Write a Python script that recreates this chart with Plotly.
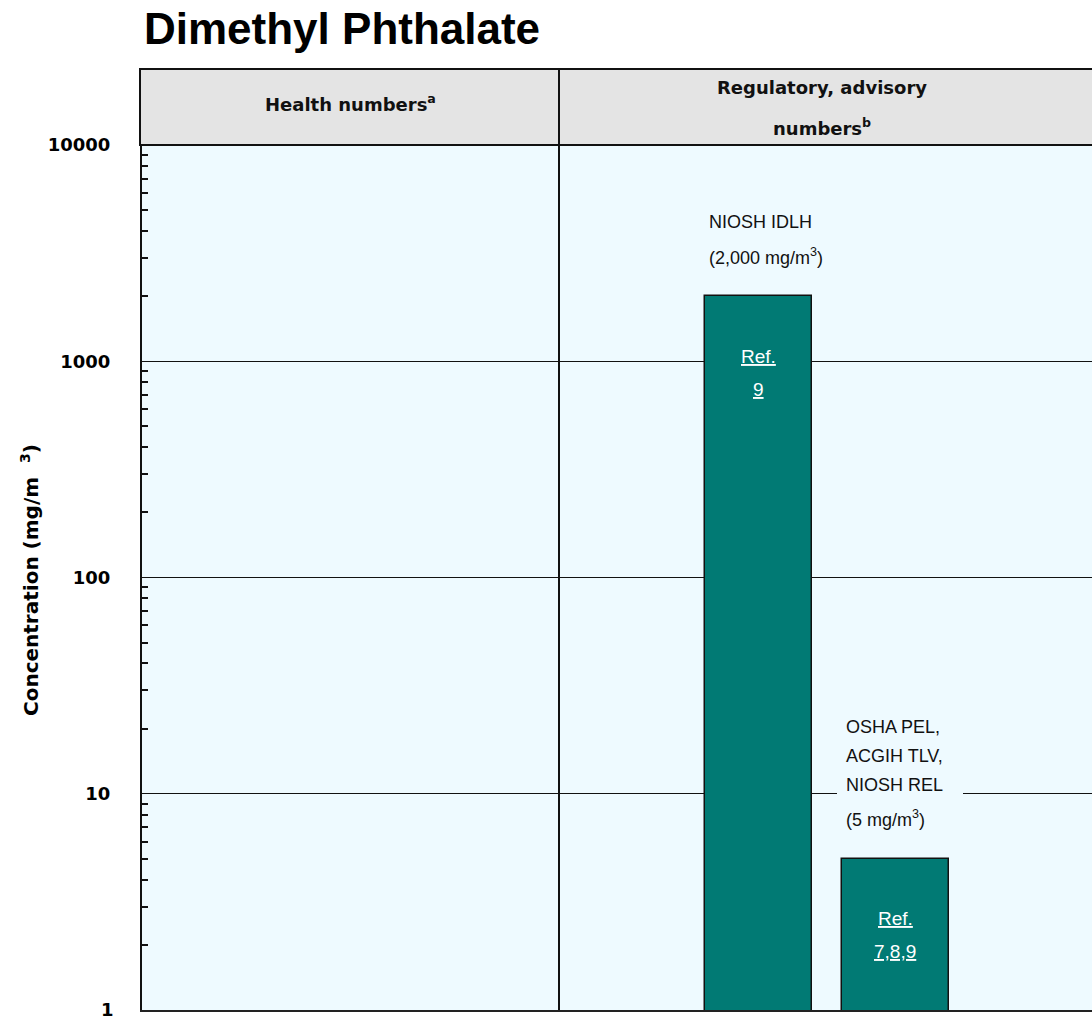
import math
import plotly.graph_objects as go

# ---------------- data ----------------
categories = ["NIOSH IDLH", "OSHA PEL / ACGIH TLV / NIOSH REL"]
values = [2000, 5]
label_lines = [
    ["NIOSH IDLH", "(2,000 mg/m<sup>3</sup>)"],
    ["OSHA PEL,", "ACGIH TLV,", "NIOSH REL", "(5 mg/m<sup>3</sup>)"],
]
ref_lines = [["Ref.", "9"], ["Ref.", "7,8,9"]]
column_headers = ["Health numbers<sup>a</sup>", ["Regulatory, advisory", "numbers<sup>b</sup>"]]
y_tick_values = [1, 10, 100, 1000, 10000]
y_tick_labels = ["1", "10", "100", "1000", "10000"]
title_text = "Dimethyl Phthalate"
y_title = "Concentration (mg/m  <sup>3</sup>)"

# ---------------- layout constants ----------------
W, H = 1092, 1017
ML, MR, MT, MB = 142, 0, 145, 7
PW, PH = W - ML - MR, H - MT - MB
PLOT_BG = "#eefaff"
HEADER_BG = "#e4e4e4"
BAR_COLOR = "#017a74"
SLOT = 137.0              # px between bar centres
FIRST_BAR_PX = 616.0      # px from plot left to first bar centre
BAR_W = 107.0 / SLOT
TICK_FONT = dict(family="DejaVu Sans", size=18, color="black", weight="bold")


def xp(px):
    return (px - ML) / PW


def yp(py):
    return (H - MB - py) / PH


x_range = [-FIRST_BAR_PX / SLOT, (PW - FIRST_BAR_PX) / SLOT]

fig = go.Figure()
fig.add_trace(go.Bar(
    x=categories, y=values, width=BAR_W,
    marker=dict(color=BAR_COLOR, line=dict(color="#111111", width=1.5)),
    hoverinfo="skip", showlegend=False,
))

annotations = []
shapes = []

# title
annotations.append(dict(text="<b>" + title_text + "</b>", xref="paper", yref="paper",
                        x=xp(142), y=yp(28), xanchor="left", yanchor="middle",
                        showarrow=False, font=dict(family="Liberation Sans", size=44, color="black")))

# header box and divider
shapes.append(dict(type="rect", xref="paper", yref="paper", x0=xp(140), x1=xp(1110),
                   y0=yp(145), y1=yp(69), fillcolor=HEADER_BG,
                   line=dict(color="#111111", width=2), layer="above"))
shapes.append(dict(type="line", xref="paper", yref="paper", x0=xp(559), x1=xp(559),
                   y0=yp(1010), y1=yp(70), line=dict(color="#111111", width=2), layer="above"))

hfont = dict(family="DejaVu Sans", size=18, color="#111111", weight="bold")
annotations.append(dict(text=column_headers[0], xref="paper", yref="paper", x=xp(350), y=yp(103),
                        xanchor="center", yanchor="middle", showarrow=False, font=hfont))
annotations.append(dict(text=column_headers[1][0], xref="paper", yref="paper", x=xp(822), y=yp(88),
                        xanchor="center", yanchor="middle", showarrow=False, font=hfont))
annotations.append(dict(text=column_headers[1][1], xref="paper", yref="paper", x=xp(822), y=yp(127),
                        xanchor="center", yanchor="middle", showarrow=False, font=hfont))

# y title
annotations.append(dict(text=y_title, xref="paper", yref="paper", x=xp(30), y=yp(580),
                        xanchor="center", yanchor="middle", textangle=-90, showarrow=False,
                        font=dict(family="DejaVu Sans", size=20, color="black", weight="bold")))

# bottom tick label (plotly hides it because it overflows the page edge)
annotations.append(dict(text=y_tick_labels[0], xref="paper", yref="y", x=xp(116),
                        y=math.log10(y_tick_values[0]), xanchor="right", yanchor="middle",
                        showarrow=False, font=TICK_FONT))

# gap in 10-gridline behind second label
shapes.append(dict(type="rect", xref="paper", yref="paper", x0=xp(837), x1=xp(963),
                   y0=yp(801), y1=yp(771), fillcolor=PLOT_BG, line=dict(width=0), layer="above"))

lfont = dict(family="Liberation Sans", size=18, color="#111111")
rfont = dict(family="Liberation Sans", size=19, color="white")
for cat, val, lines, refs in zip(categories, values, label_lines, ref_lines):
    ly = math.log10(val)
    n = len(lines)
    for i, line in enumerate(lines):
        k = n - 1 - i
        off = 40 if k == 0 else 74 + 29 * (k - 1)
        annotations.append(dict(text=line, x=cat, y=ly, xref="x", yref="y",
                                xanchor="left", yanchor="middle", xshift=-BAR_W * SLOT / 2 + 2,
                                yshift=off, showarrow=False, font=lfont))
    for j, r in enumerate(refs):
        annotations.append(dict(text="<u>" + r + "</u>", x=cat, y=ly, xref="x", yref="y",
                                xanchor="center", yanchor="middle", yshift=-(60 + 33 * j),
                                showarrow=False, font=rfont))

minor_vals = [m * 10 ** e for e in range(0, 4) for m in range(2, 10)]

fig.update_layout(
    width=W, height=H,
    margin=dict(l=ML, r=MR, t=MT, b=MB, pad=0),
    paper_bgcolor="white", plot_bgcolor=PLOT_BG,
    bargap=0, showlegend=False,
    annotations=annotations, shapes=shapes,
    xaxis=dict(type="category", range=x_range, showticklabels=False, ticks="",
               showgrid=False, zeroline=False, showline=True, linecolor="#222222", linewidth=2),
    yaxis=dict(type="log", range=[-0.001, 4.0005], tickmode="array", tickvals=y_tick_values[1:],
               ticktext=y_tick_labels[1:], ticks="", showgrid=True, gridcolor="#111111", gridwidth=1.2,
               showline=True, linecolor="#111111", linewidth=2, zeroline=False,
               ticklabelstandoff=26,
               tickfont=TICK_FONT,
               minor=dict(tickmode="array", tickvals=minor_vals, ticks="inside", ticklen=6,
                          tickwidth=1.5, tickcolor="#111111", showgrid=False)),
)

fig.write_html("out.html")
